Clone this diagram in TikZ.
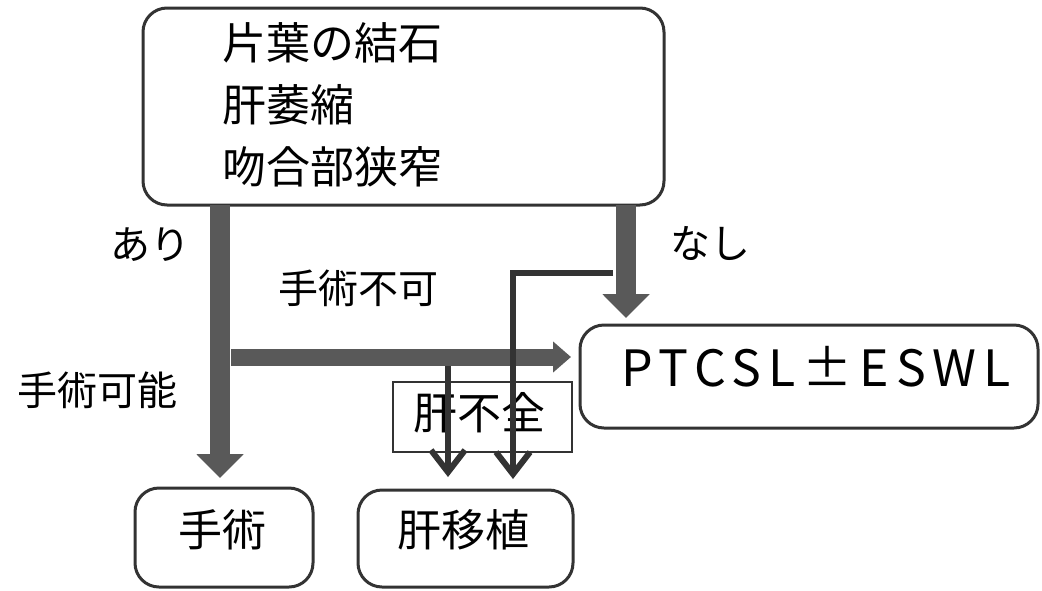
\documentclass[tikz,border=0pt]{standalone}
\usepackage{fontspec}
\setmainfont{Noto Sans CJK JP}
\usetikzlibrary{arrows.meta}
\definecolor{arrowgray}{gray}{0.35}
\definecolor{linegray}{gray}{0.2}
\tikzset{
  rbox/.style={draw=linegray, line width=3pt, rounded corners=24pt, fill=white, inner sep=0pt},
  sbox/.style={draw=linegray, line width=2pt, fill=white, inner sep=0pt},
  bigarrow/.style={draw=arrowgray, line width=20pt, -{Triangle[width=46pt,length=24pt]}},
  thinarrow/.style={draw=linegray, line width=6pt, -{Straight Barb[width=34pt,length=22pt]}},
  lbl/.style={font=\fontsize{40}{44}\selectfont, inner sep=0pt}
}
\begin{document}
\begin{tikzpicture}[x=1pt,y=-1pt]
\useasboundingbox (0,0) rectangle (1042,590);
% boxes
\node[rbox, minimum width=521pt, minimum height=197pt] (top) at (403.5,106.5) {};
\node[font=\fontsize{44}{62}\selectfont, align=left, anchor=north west, inner sep=0pt] (toptext) at (222,22) {片葉の結石\\肝萎縮\\吻合部狭窄};
\node[rbox, minimum width=458pt, minimum height=103pt] (ptcsl) at (809,376.5) {};
\node[font=\fontsize{50}{56}\selectfont\addfontfeature{LetterSpace=14}, inner sep=0pt] (ptcsltext) at (816,367) {PTCSL±ESWL};
\node[rbox, minimum width=178pt, minimum height=99pt] (surg) at (224,537.5) {};
\node[lbl, font=\fontsize{44}{48}\selectfont] (surgtext) at (222,530) {手術};
\node[rbox, minimum width=215pt, minimum height=97pt] (lt) at (465.5,538.5) {};
\node[lbl, font=\fontsize{44}{48}\selectfont] (lttext) at (463,530) {肝移植};
% coordinates
\coordinate (ls) at (220,205);
\coordinate (le) at (220,478);
\coordinate (rs) at (626,205);
\coordinate (re) at (626,318);
\coordinate (hs) at (231,357);
\coordinate (he) at (571,357);
\coordinate (t1s) at (448,366);
\coordinate (t1e) at (448,477);
\coordinate (t2s) at (613,273);
\coordinate (t2c) at (513,273);
\coordinate (t2e) at (513,479);
% thick arrows
\draw[bigarrow] (ls) -- (le);
\draw[bigarrow] (rs) -- (re);
\draw[bigarrow, line width=17pt, -{Triangle[width=30pt,length=18pt]}] (hs) -- (he);
% liver failure box
\node[sbox, minimum width=179pt, minimum height=70pt] (lf) at (482.5,417) {};
\node[lbl, font=\fontsize{44}{48}\selectfont] (lftext) at (479,413) {肝不全};
% thin arrows
\draw[thinarrow] (t1s) -- (t1e);
\draw[thinarrow] (t2s) -- (t2c) -- (t2e);
% labels
\node[lbl] (ari) at (150,245) {あり};
\node[lbl] (nashi) at (710,243) {なし};
\node[lbl] (fuka) at (358,288) {手術不可};
\node[lbl] (kanou) at (97,390) {手術可能};
\end{tikzpicture}
\end{document}
